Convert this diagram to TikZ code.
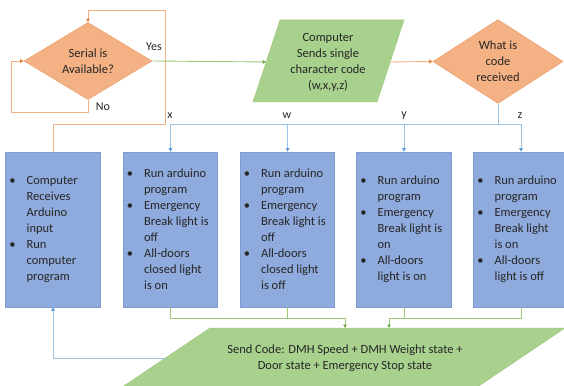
\documentclass[tikz,border=0pt]{standalone}
\usepackage{fontspec}
\setmainfont{Carlito}
\usetikzlibrary{shapes.geometric,arrows.meta,calc}

\definecolor{orfill}{HTML}{F4B183}
\definecolor{oredge}{HTML}{EFA171}
\definecolor{orline}{HTML}{F2B085}
\definecolor{ortip}{HTML}{E5813F}
\definecolor{grfill}{HTML}{A9D18E}
\definecolor{grline}{HTML}{9CC97E}
\definecolor{grtip}{HTML}{6FA847}
\definecolor{bxfill}{HTML}{8FAADC}
\definecolor{bxedge}{HTML}{7F9CD4}
\definecolor{blline}{HTML}{9DC3E6}
\definecolor{bltip}{HTML}{5B9BD5}
\definecolor{ink}{HTML}{262626}

\begin{document}
\begin{tikzpicture}[x=1pt,y=-1pt,
  every node/.style={text=ink, font=\fontsize{12.5}{16}\selectfont},
  decision/.style={diamond, fill=orfill, draw=oredge, line width=0.6pt,
    inner sep=0pt, align=center},
  stepbox/.style={rectangle, fill=bxfill, draw=bxedge, line width=0.6pt,
    minimum width=94.5pt, minimum height=155pt},
  btext/.style={anchor=west, align=left, inner sep=0pt},
  iobox/.style={fill=grfill, draw=grline, line width=0.5pt},
  oconn/.style={draw=orline, line width=0.9pt,
    -{Triangle[length=3.5pt,width=3.5pt,color=ortip]}},
  gconn/.style={draw=grline, line width=0.9pt,
    -{Triangle[length=3.5pt,width=3.5pt,color=grtip]}},
  bconn/.style={draw=blline, line width=0.9pt,
    -{Triangle[length=3.5pt,width=3.5pt,color=bltip]}},
  plain/.style={line width=0.9pt},
  lbl/.style={inner sep=0pt, font=\fontsize{12}{14}\selectfont}
]
\useasboundingbox (0,0) rectangle (564,385);
\clip (0,0) rectangle (564,385);

\newcommand{\bul}{\llap{\textbullet\hspace{11pt}}}

% decisions
\node[decision, minimum width=128pt, minimum height=77pt] (serial) at (88,61) {Serial is\\Available?};
\node[decision, minimum width=130pt, minimum height=76pt] (what) at (498,61.5) {What is\\code\\received};

% input parallelogram
\coordinate (p1tl) at (280,20);
\coordinate (p1tr) at (404,20);
\coordinate (p1br) at (377,102);
\coordinate (p1bl) at (253,102);
\path[iobox] (p1tl) -- (p1tr) -- (p1br) -- (p1bl) -- cycle;
\node[align=center] (sendchar) at (328,62) {Computer\\Sends single\\character code\\(w,x,y,z)};
\coordinate (p1in) at ($(p1tl)!0.512!(p1bl)$);
\coordinate (p1out) at ($(p1tr)!0.512!(p1br)$);

% output parallelogram
\coordinate (p2tl) at (210,328);
\coordinate (p2tr) at (565,328);
\coordinate (p2br) at (455,402);
\coordinate (p2bl) at (100,402);
\path[iobox] (p2tl) -- (p2tr) -- (p2br) -- (p2bl) -- cycle;
\node[align=center] (sendcode) at (345,358) {Send Code: DMH Speed + DMH Weight state +\\Door state + Emergency Stop state};
\coordinate (m1) at (345,328);
\coordinate (m2) at (389,328);
\coordinate (ret) at ($(p2tl)!0.405!(p2bl)$);

% process boxes
\node[stepbox] (b1) at (53,229.5) {};
\node[stepbox] (b2) at (170.5,229.5) {};
\node[stepbox] (b3) at (287.5,229.5) {};
\node[stepbox] (b4) at (404,229.5) {};
\node[stepbox] (b5) at (521,229.5) {};

\node[btext] (t1) at ($(b1.west)+(21,0)$) {\bul Computer\\Receives\\Arduino\\input\\\bul Run\\computer\\program};
\node[btext] (t2) at ($(b2.west)+(21,0)$) {\bul Run arduino\\program\\\bul Emergency\\Break light is\\off\\\bul All-doors\\closed light\\is on};
\node[btext] (t3) at ($(b3.west)+(21,0)$) {\bul Run arduino\\program\\\bul Emergency\\Break light is\\off\\\bul All-doors\\closed light\\is off};
\node[btext] (t4) at ($(b4.west)+(21,0)$) {\bul Run arduino\\program\\\bul Emergency\\Break light is\\on\\\bul All-doors\\light is on};
\node[btext] (t5) at ($(b5.west)+(21,0)$) {\bul Run arduino\\program\\\bul Emergency\\Break light\\is on\\\bul All-doors\\light is off};

% polling loop
\coordinate (loopA) at (165,124);
\coordinate (loopB) at (165,10);
\draw[oconn] (b1.north) |- (loopA) -- (loopB) -| (serial.north);
\coordinate (noC) at (11,112);
\draw[oconn] (serial.south) |- (noC) |- (serial.west);

% serial available -> computer sends code -> decision
\draw[gconn] (serial.east) -- (p1in);
\draw[oconn] (p1out) -- (what.west);

% code distribution
\coordinate (bus) at (0,124.5);
\draw[draw=blline, plain] (what.south) -- (what.south |- bus);
\draw[bconn] (what.south |- bus) -| (b2.north);
\draw[bconn] (b3.north |- bus) -- (b3.north);
\draw[bconn] (b4.north |- bus) -- (b4.north);
\draw[bconn] (what.south |- bus) -| (b5.north);

% results merge into the send step
\coordinate (gbus) at (0,318);
\draw[gconn] (b2.south) |- (m1 |- gbus) -- (m1);
\draw[draw=grline, plain] (b3.south) -- (b3.south |- gbus);
\draw[gconn] (b4.south) |- (m2 |- gbus) -- (m2);
\draw[draw=grline, plain] (b5.south) |- (m2 |- gbus);

% back to the computer
\draw[bconn] (ret) -| (b1.south);

% labels
\node[lbl] (yes) at (154,47) {Yes};
\node[lbl] (no) at (103,107) {No};
\node[lbl] (lx) at (170,116) {x};
\node[lbl] (lw) at (287,116) {w};
\node[lbl] (ly) at (404,116) {y};
\node[lbl] (lz) at (520,116) {z};
\end{tikzpicture}
\end{document}
